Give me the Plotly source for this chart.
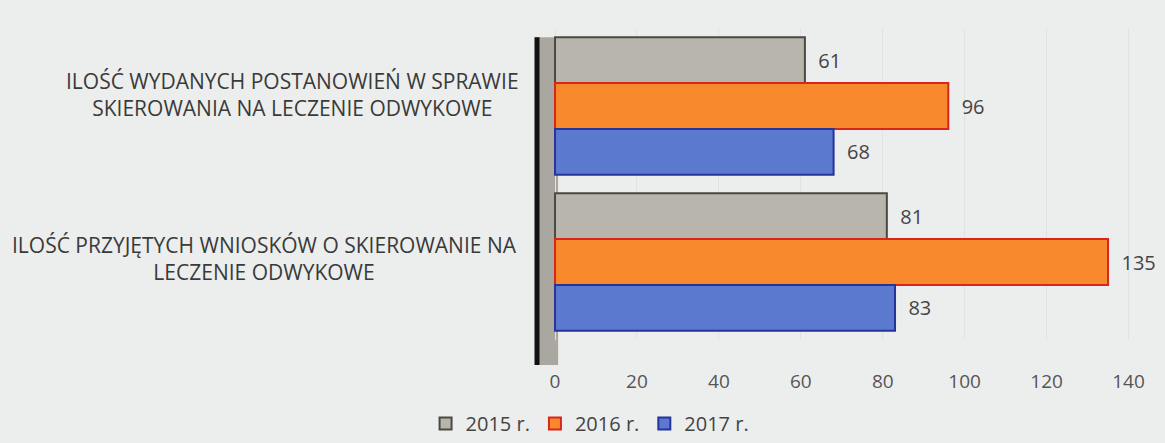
import plotly.graph_objects as go

categories = [
    "ILOŚĆ WYDANYCH POSTANOWIEŃ W SPRAWIE<br>SKIEROWANIA NA LECZENIE ODWYKOWE",
    "ILOŚĆ PRZYJĘTYCH WNIOSKÓW O SKIEROWANIE NA<br>LECZENIE ODWYKOWE",
]
series_names = ["2015 r.", "2016 r.", "2017 r."]
values_2015 = [61, 81]
values_2016 = [96, 135]
values_2017 = [68, 83]
tick_vals = [0, 20, 40, 60, 80, 100, 120, 140]

fills = ["#b7b5ac", "#f7892c", "#5b79cf"]
outlines = ["#4a4a40", "#d8261c", "#25339c"]

fig = go.Figure()
for name, vals, fc, lc in zip(series_names, [values_2015, values_2016, values_2017], fills, outlines):
    fig.add_trace(go.Bar(
        y=categories, x=vals, name=name, orientation="h",
        marker=dict(color=fc, line=dict(color=lc, width=2)),
        text=[str(v) for v in vals], texttemplate="\u00a0\u00a0%{text}", textposition="outside",
        textfont=dict(size=20, color="#444444", family="Open Sans"),
        cliponaxis=False,
    ))

fig.update_layout(
    width=1165, height=443,
    paper_bgcolor="#eceeed", plot_bgcolor="#eceeed",
    margin=dict(l=537, r=25, t=28, b=103, autoexpand=False),
    barmode="group", bargap=0.12, bargroupgap=0.0,
    font=dict(family="Open Sans", color="#444444", size=16),
    showlegend=True,
    legend=dict(orientation="h", x=0.088, xanchor="center", yref="container", y=0.0, yanchor="bottom",
                traceorder="normal", font=dict(size=20, color="#444444"),
                bgcolor="rgba(0,0,0,0)", itemwidth=30),
    xaxis=dict(range=[-4.4, 142.8], tickvals=tick_vals, showgrid=True, gridcolor="#e1e3e2",
               zeroline=False, ticks="outside", ticklen=24, tickcolor="rgba(0,0,0,0)",
               tickfont=dict(size=19, color="#555555"), showline=False),
    yaxis=dict(autorange="reversed", showticklabels=False, showline=False,
               showgrid=False, ticks="", zeroline=False),
    shapes=[
        dict(type="rect", xref="paper", yref="paper", x0=0.0, x1=0.035, y0=-0.08, y1=0.97,
             fillcolor="#a9a7a0", line=dict(width=0), layer="below"),
        dict(type="line", xref="paper", yref="paper", x0=0.0, x1=0.0, y0=-0.08, y1=0.97,
             line=dict(color="#111111", width=5), layer="above"),
    ],
)

label_x = [-0.405, -0.452]
label_shift = [12, 4]
for cat, lx, ys in zip(categories, label_x, label_shift):
    fig.add_annotation(x=lx, xref="paper", y=cat, yref="y", text=cat, showarrow=False,
                       xanchor="center", yanchor="middle", align="center", yshift=ys,
                       font=dict(size=21, color="#3a3a3a", family="Open Sans"))

fig.write_html("out.html", config={"displayModeBar": False},
               post_script="document.body.style.margin='0';document.body.style.overflow='hidden';document.body.style.background='#eceeed';")
